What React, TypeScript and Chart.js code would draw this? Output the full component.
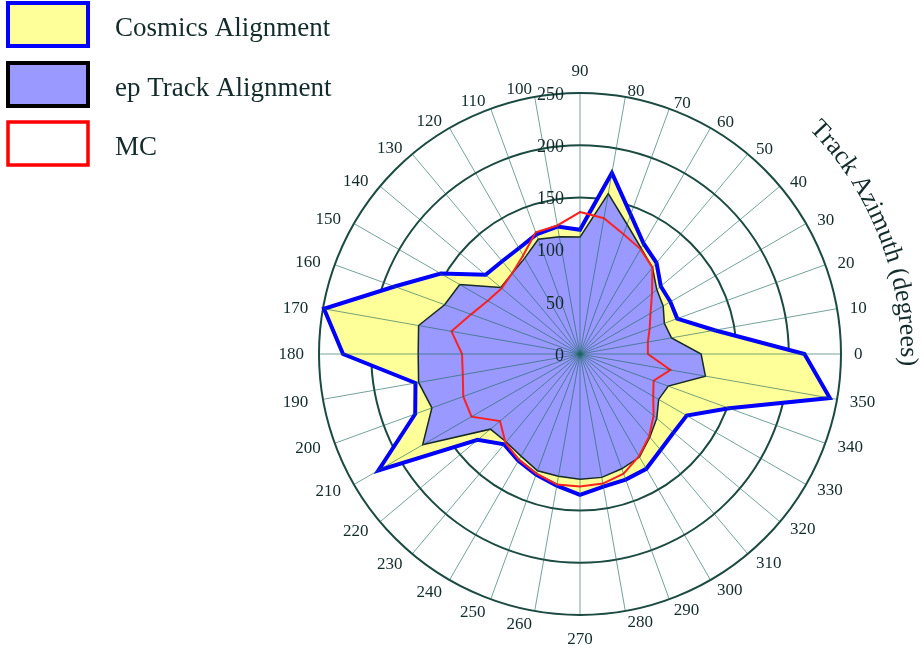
import React, { useEffect, useRef } from 'react';
import { Chart, registerables } from 'chart.js';

Chart.register(...registerables);

// Track azimuth in degrees (counter-clockwise from the right, 90 at the top)
const azimuths = [0, 10, 20, 30, 40, 50, 60, 70, 80, 90, 100, 110, 120, 130, 140, 150, 160, 170,
  180, 190, 200, 210, 220, 230, 240, 250, 260, 270, 280, 290, 300, 310, 320, 330, 340, 350];

const cosmicsValues = [215, 131, 99, 100, 101, 114, 122, 142, 176, 119, 124, 122, 117, 116, 118, 154, 189, 249,
  227, 160, 168, 223, 128, 113, 118, 123, 128, 135, 129, 128, 127, 120, 117, 118, 152, 243];

const epTrackValues = [116, 89, 86, 92, 96, 108, 117, 132, 156, 112, 114, 117, 106, 101, 99, 133, 138, 157,
  155, 157, 151, 174, 112, 110, 113, 119, 119, 120, 120, 117, 114, 104, 96, 87, 90, 122];

const mcValues = [65, 66, 71, 78, 90, 108, 116, 122, 132, 136, 125, 124, 109, 101, 98, 102, 111, 125,
  113, 114, 119, 120, 100, 111, 117, 122, 127, 127, 126, 122, 113, 103, 92, 81, 75, 88];

const radialTicks = [0, 50, 100, 150, 200, 250];
const seriesNames = ['Cosmics Alignment', 'ep Track Alignment', 'MC'];
const axisTitle = 'Track Azimuth (degrees)';

const SERIF = '"Liberation Serif", "Times New Roman", serif';
const TEXT_COLOR = '#132b2b';

// Chart.js radar goes clockwise from the top: 90, 80, ..., 0, 350, ..., 100
const displayAzimuths = azimuths.map((_, i) => ((90 - 10 * i) % 360 + 360) % 360);
const pick = (arr: number[]) => displayAzimuths.map((a) => arr[azimuths.indexOf(a)]);

const legendItems = [
  { name: seriesNames[0], fill: '#ffff99', stroke: '#0000ff', lw: 4 },
  { name: seriesNames[1], fill: '#9999ff', stroke: '#000000', lw: 4 },
  { name: seriesNames[2], fill: '#ffffff', stroke: '#ff0000', lw: 3.5 },
];

const overlayPlugin = {
  id: 'overlay',
  afterDatasetsDraw(chart: any) {
    const s = chart.scales.r;
    const ctx = chart.ctx as CanvasRenderingContext2D;
    const n = chart.data.labels.length;
    ctx.save();
    // spokes on top of the fills
    ctx.strokeStyle = 'rgba(25,100,90,0.6)';
    ctx.lineWidth = 1;
    for (let i = 0; i < n; i++) {
      const p = s.getPointPosition(i, s.drawingArea);
      ctx.beginPath();
      ctx.moveTo(s.xCenter, s.yCenter);
      ctx.lineTo(p.x, p.y);
      ctx.stroke();
    }
    // radial tick labels
    ctx.font = `18px ${SERIF}`;
    ctx.fillStyle = TEXT_COLOR;
    ctx.textAlign = 'right';
    ctx.textBaseline = 'middle';
    radialTicks.forEach((v) => {
      const p = s.getPointPositionForValue(0, v);
      ctx.fillText(String(v), s.xCenter - 16, p.y + 2);
    });
    // angle labels
    ctx.font = `17px ${SERIF}`;
    const labels = chart.data.labels as string[];
    for (let i = 0; i < n; i++) {
      const ang = s.getIndexAngle(i) - Math.PI / 2;
      const c = Math.cos(ang);
      const sn = Math.sin(ang);
      const vertical = Math.abs(c) <= 0.01;
      let gap = 13;
      if (c < -0.01) gap = 15;
      if (vertical) gap = sn < 0 ? 13 : 16;
      const x = s.xCenter + c * (s.drawingArea + gap);
      let y = s.yCenter + sn * (s.drawingArea + gap);
      ctx.textAlign = c > 0.01 ? 'left' : c < -0.01 ? 'right' : 'center';
      if (vertical) {
        ctx.textBaseline = sn < 0 ? 'bottom' : 'top';
      } else {
        ctx.textBaseline = 'middle';
        y += sn < 0 ? -6 * sn + 1 : -2 * sn + 1;
      }
      ctx.fillText(labels[i], x, y);
    }
    ctx.restore();
  },
  afterDraw(chart: any) {
    const ctx = chart.ctx as CanvasRenderingContext2D;
    const s = chart.scales.r;
    ctx.save();
    // legend
    legendItems.forEach((it, i) => {
      const top = [3, 63, 122][i];
      const x = 8, w = 80, h = 43;
      ctx.fillStyle = it.fill;
      ctx.fillRect(x, top, w, h);
      ctx.strokeStyle = it.stroke;
      ctx.lineWidth = it.lw;
      ctx.strokeRect(x, top, w, h);
      ctx.fillStyle = TEXT_COLOR;
      ctx.font = `27px ${SERIF}`;
      ctx.textAlign = 'left';
      ctx.textBaseline = 'alphabetic';
      ctx.fillText(it.name, 115, top + 33);
    });
    // curved axis title
    ctx.font = `26px ${SERIF}`;
    ctx.fillStyle = TEXT_COLOR;
    ctx.textAlign = 'center';
    ctx.textBaseline = 'alphabetic';
    const r = 321;
    let a = (44.5 * Math.PI) / 180;
    for (const ch of axisTitle) {
      const cw = ctx.measureText(ch).width;
      const mid = a - cw / 2 / r;
      const x = s.xCenter + r * Math.cos(mid);
      const y = s.yCenter - r * Math.sin(mid);
      ctx.save();
      ctx.translate(x, y);
      ctx.rotate(Math.PI / 2 - mid);
      ctx.fillText(ch, 0, 0);
      ctx.restore();
      a -= cw / r;
    }
    ctx.restore();
  },
};

export default function App() {
  const canvasRef = useRef<HTMLCanvasElement | null>(null);

  useEffect(() => {
    document.body.style.margin = '0';
    const canvas = canvasRef.current;
    if (!canvas) return;
    const chart = new Chart(canvas, {
      type: 'radar',
      data: {
        labels: displayAzimuths.map(String),
        datasets: [
          {
            label: seriesNames[0],
            data: pick(cosmicsValues),
            backgroundColor: '#ffff99',
            borderColor: '#0000ff',
            borderWidth: 4,
            fill: true,
            pointRadius: 0,
            pointHoverRadius: 0,
            order: 3,
          },
          {
            label: seriesNames[1],
            data: pick(epTrackValues),
            backgroundColor: '#9999ff',
            borderColor: '#152a20',
            borderWidth: 1.5,
            fill: true,
            pointRadius: 0,
            pointHoverRadius: 0,
            order: 2,
          },
          {
            label: seriesNames[2],
            data: pick(mcValues),
            backgroundColor: 'rgba(0,0,0,0)',
            borderColor: '#ff2020',
            borderWidth: 2,
            fill: false,
            pointRadius: 0,
            pointHoverRadius: 0,
            order: 1,
          },
        ],
      },
      options: {
        responsive: false,
        animation: false,
        devicePixelRatio: 1,
        layout: { padding: { left: 319, right: 83, top: 93, bottom: 37 } },
        plugins: {
          legend: { display: false },
          title: { display: false },
          tooltip: { enabled: false },
        },
        elements: { line: { tension: 0, borderJoinStyle: 'miter' } },
        scales: {
          r: {
            min: 0,
            max: 250,
            beginAtZero: true,
            ticks: { display: false, stepSize: 50 },
            pointLabels: { display: false },
            angleLines: { display: false },
            grid: { circular: true, color: '#1b4a40', lineWidth: 2 },
          },
        },
      },
      plugins: [overlayPlugin],
    });
    return () => chart.destroy();
  }, []);

  return (
    <div style={{ position: 'absolute', left: 0, top: 0, width: 924, height: 652, background: '#fff' }}>
      <canvas ref={canvasRef} width={924} height={652} />
    </div>
  );
}
